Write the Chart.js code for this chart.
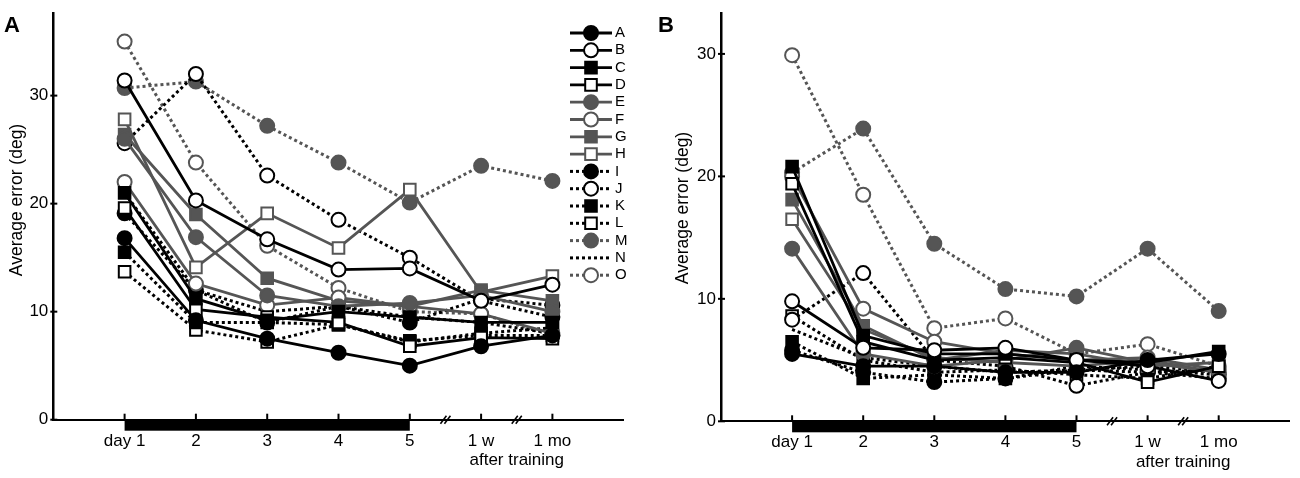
<!DOCTYPE html>
<html>
<head>
<meta charset="utf-8">
<script src="https://cdn.jsdelivr.net/npm/chart.js@4.4.1/dist/chart.umd.min.js"></script>
<style>
  html, body { margin: 0; padding: 0; background: #fff; }
  #wrap { position: relative; width: 1300px; height: 478px; }
  canvas { position: absolute; top: 0; }
  #chartA { left: 0; }
  #chartB { left: 650px; }
</style>
</head>
<body>
<div id="wrap">
  <canvas id="chartA" width="650" height="478"></canvas>
  <canvas id="chartB" width="650" height="478"></canvas>
</div>
<script>
// x categories, y ticks and subjects
const categories = ['day 1', '2', '3', '4', '5', '1 w', '1 mo'];
const yTicks = [0, 10, 20, 30];
const seriesNames = ['A', 'B', 'C', 'D', 'E', 'F', 'G', 'H', 'I', 'J', 'K', 'L', 'M', 'N', 'O'];

// Panel A, average error (deg), one row per subject A..O
const errorsA = [
  [16.8,  9.2,  7.5,  6.2,  5.0,  6.8,  7.8], // A
  [31.4, 20.3, 16.7, 13.9, 14.0, 11.0, 12.5], // B
  [21.0, 11.2,  9.2, 10.0,  9.5,  9.0,  9.0], // C
  [19.6, 10.2,  9.5,  9.0,  6.8,  7.6,  7.5], // D
  [26.0, 16.9, 11.5, 10.5, 10.8, 11.5, 10.0], // E
  [22.0, 12.6, 10.6, 11.3, 10.5,  9.8,  8.0], // F
  [26.4, 19.0, 13.1, 11.0, 10.5, 12.0, 11.0], // G
  [27.8, 14.1, 19.1, 15.9, 21.3, 11.8, 13.3], // H
  [19.1, 12.0,  9.0, 10.5,  9.0, 11.2, 10.6], // I
  [25.6, 32.0, 22.6, 18.5, 15.0, 11.0,  9.5], // J
  [15.5,  9.0,  9.0,  8.8,  7.2,  8.0,  8.5], // K
  [13.7,  8.3,  7.2,  8.8,  7.3,  7.8,  7.8], // L
  [30.7, 31.3, 27.2, 23.8, 20.1, 23.5, 22.1], // M
  [21.0, 12.0, 10.0, 10.5,  9.5,  9.0,  8.0], // N
  [35.0, 23.8, 16.1, 12.2, 10.0,  9.8,  7.8]  // O
];

// Panel B
const errorsB = [
  [ 5.5,  4.5,  4.5,  4.0,  4.0,  5.0,  5.5], // A
  [ 9.8,  6.0,  5.8,  6.0,  5.0,  4.5,  3.3], // B
  [20.8,  7.0,  5.5,  5.5,  5.0,  4.8,  5.7], // C
  [19.4,  6.5,  5.0,  5.2,  4.8,  3.2,  4.5], // D
  [14.1,  5.5,  4.5,  5.0,  6.0,  4.8,  4.0], // E
  [20.0,  9.2,  6.5,  5.5,  5.0,  5.2,  4.2], // F
  [18.1,  7.8,  5.0,  5.8,  5.5,  4.5,  4.8], // G
  [16.5,  7.5,  5.2,  4.8,  4.5,  5.0,  4.0], // H
  [ 5.8,  4.0,  3.2,  3.5,  4.5,  4.2,  3.8], // I
  [ 8.3, 12.1,  5.0,  4.5,  2.9,  4.0,  3.5], // J
  [ 6.5,  3.5,  3.8,  3.5,  4.2,  4.5,  4.0], // K
  [ 8.6,  5.0,  4.0,  4.2,  3.8,  3.5,  4.5], // L
  [20.3, 23.9, 14.5, 10.8, 10.2, 14.1,  9.0], // M
  [ 7.5,  5.2,  4.5,  4.0,  4.2,  4.0,  4.2], // N
  [29.9, 18.5,  7.6,  8.4,  5.5,  6.3,  4.5]  // O
];

// marker look per subject
const seriesTone = ['k', 'k', 'k', 'k', 'g', 'g', 'g', 'g', 'k', 'k', 'k', 'k', 'g', 'k', 'g'];
const seriesMarker = ['dot', 'ring', 'box', 'frame', 'dot', 'ring', 'box', 'frame',
                      'dot', 'ring', 'box', 'frame', 'dot', 'none', 'ring'];

const BLACK = '#000000';
const GREY = '#555555';
const FONT = "'Liberation Sans', Arial, Helvetica, sans-serif";

function makeDatasets(rows) {
  return rows.map((vals, i) => {
    const col = seriesTone[i] === 'k' ? BLACK : GREY;
    const m = seriesMarker[i];
    const dotted = i >= 8;
    const round = (m === 'dot' || m === 'ring');
    const open = (m === 'ring' || m === 'frame');
    const r = m === 'none' ? 0 : (round ? 7 : 8.2);
    return {
      label: seriesNames[i],
      data: vals.map((v, j) => ({ x: j, y: v })),
      borderColor: col,
      borderWidth: dotted ? 3 : 2.8,
      borderDash: dotted ? [3, 3] : [],
      borderCapStyle: 'butt',
      pointStyle: round ? 'circle' : 'rect',
      pointRadius: r,
      pointHoverRadius: r,
      pointBorderWidth: 2,
      pointBorderColor: col,
      pointBackgroundColor: open ? '#ffffff' : col,
      tension: 0,
      fill: false,
      clip: false
    };
  });
}

// ticks inside, training bar, axis breaks, extra text, legend
const extrasPlugin = {
  id: 'extras',
  afterDraw(chart, args, opts) {
    const ctx = chart.ctx;
    const xs = chart.scales.x, ys = chart.scales.y;
    const area = chart.chartArea;
    ctx.save();
    ctx.strokeStyle = BLACK;
    ctx.fillStyle = BLACK;
    ctx.lineWidth = 2;
    yTicks.forEach(v => {
      const py = ys.getPixelForValue(v);
      ctx.beginPath(); ctx.moveTo(area.left - 3, py); ctx.lineTo(area.left + 4, py); ctx.stroke();
    });
    categories.forEach((c, j) => {
      const px = xs.getPixelForValue(j);
      ctx.beginPath(); ctx.moveTo(px, area.bottom); ctx.lineTo(px, area.bottom - 6); ctx.stroke();
    });
    // training period bar (day 1 .. day 5)
    const bx0 = xs.getPixelForValue(0), bx1 = xs.getPixelForValue(4);
    ctx.fillRect(bx0, area.bottom, bx1 - bx0, 11);
    // axis breaks
    ctx.lineWidth = 1.6;
    [4.5, 5.5].forEach(b => {
      const cx = xs.getPixelForValue(b);
      [-2, 2].forEach(o => {
        ctx.beginPath();
        ctx.moveTo(cx + o - 3, area.bottom + 4);
        ctx.lineTo(cx + o + 3, area.bottom - 4);
        ctx.stroke();
      });
    });
    // "after training"
    ctx.font = '17px ' + FONT;
    ctx.textAlign = 'center';
    ctx.textBaseline = 'middle';
    const mid = (xs.getPixelForValue(5) + xs.getPixelForValue(6)) / 2;
    ctx.fillText('after training', mid, area.bottom + 41);
    // y axis title
    ctx.save();
    ctx.translate(opts.titleX, opts.titleY);
    ctx.rotate(-Math.PI / 2);
    ctx.font = '17.5px ' + FONT;
    ctx.fillText('Average error (deg)', 0, 0);
    ctx.restore();
    // panel letter
    ctx.font = 'bold 22px ' + FONT;
    ctx.textAlign = 'left';
    ctx.textBaseline = 'alphabetic';
    ctx.fillText(opts.letter, opts.letterX, 32);

    if (opts.legend) {
      const lg = opts.legend;
      ctx.font = '15px ' + FONT;
      ctx.textBaseline = 'middle';
      chart.data.datasets.forEach((ds, i) => {
        const y = lg.top + i * lg.step;
        ctx.strokeStyle = ds.borderColor;
        ctx.lineWidth = ds.borderWidth;
        ctx.setLineDash(ds.borderDash);
        ctx.beginPath(); ctx.moveTo(lg.x0, y); ctx.lineTo(lg.x1, y); ctx.stroke();
        ctx.setLineDash([]);
        if (ds.pointRadius > 0) {
          ctx.fillStyle = ds.pointBackgroundColor;
          ctx.strokeStyle = ds.pointBorderColor;
          ctx.lineWidth = ds.pointBorderWidth;
          Chart.helpers.drawPoint(ctx, {
            pointStyle: ds.pointStyle, radius: ds.pointRadius,
            borderWidth: ds.pointBorderWidth, rotation: 0
          }, (lg.x0 + lg.x1) / 2, y);
        }
        ctx.fillStyle = BLACK;
        ctx.fillText(ds.label, lg.x1 + 3, y);
      });
    }
    ctx.restore();
  }
};

function makeChart(id, rows, cfg) {
  return new Chart(document.getElementById(id), {
    type: 'line',
    data: { datasets: makeDatasets(rows) },
    options: {
      responsive: false,
      animation: false,
      devicePixelRatio: 1,
      layout: { padding: { left: cfg.padLeft, right: cfg.padRight, top: cfg.padTop, bottom: 0 } },
      plugins: {
        legend: { display: false },
        tooltip: { enabled: false },
        extras: {
          letter: cfg.letter, letterX: cfg.letterX, legend: cfg.legend,
          titleX: cfg.titleX, titleY: cfg.titleY
        }
      },
      scales: {
        x: {
          type: 'linear',
          min: -1,
          max: 7,
          afterBuildTicks: s => { s.ticks = categories.map((c, i) => ({ value: i })); },
          afterFit: s => { s.height = cfg.xHeight; },
          grid: { display: true, drawOnChartArea: false, drawTicks: false },
          border: { display: true, color: BLACK, width: 2 },
          ticks: {
            autoSkip: false,
            maxRotation: 0,
            padding: 13,
            color: BLACK,
            font: { family: FONT, size: 17, lineHeight: 1 },
            callback: v => categories[v] !== undefined ? categories[v] : ''
          }
        },
        y: {
          min: 0,
          max: cfg.yMax,
          afterBuildTicks: s => { s.ticks = yTicks.map(v => ({ value: v })); },
          afterFit: s => { s.width = cfg.yWidth; },
          grid: { display: true, drawOnChartArea: false, drawTicks: false },
          border: { display: true, color: BLACK, width: 2.5 },
          ticks: {
            padding: 5,
            color: BLACK,
            font: { family: FONT, size: 17, lineHeight: 1 },
            callback: v => String(v)
          }
        }
      }
    },
    plugins: [extrasPlugin]
  });
}

makeChart('chartA', errorsA, {
  padLeft: 0, padRight: 26.3, padTop: 10, yWidth: 53.3, xHeight: 58.3, yMax: 37.6,
  letter: 'A', letterX: 4, titleX: 17, titleY: 200,
  legend: { x0: 570, x1: 612, top: 33, step: 17.3 }
});

makeChart('chartB', errorsB, {
  padLeft: 0, padRight: 9, padTop: 8, yWidth: 71, xHeight: 56.7, yMax: 33.3,
  letter: 'B', letterX: 8, titleX: 33, titleY: 208,
  legend: null
});
</script>
</body>
</html>
